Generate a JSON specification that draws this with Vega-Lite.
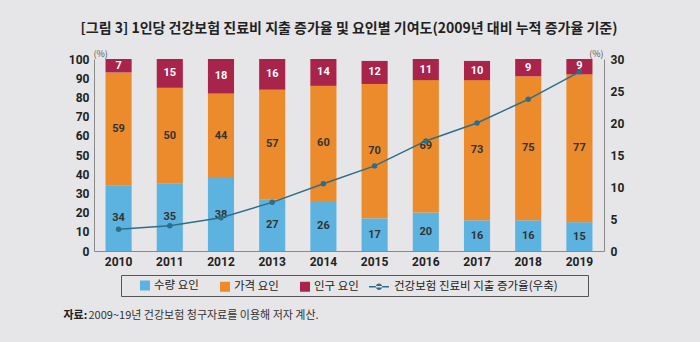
{
  "$schema": "https://vega.github.io/schema/vega-lite/v6.json",
  "width": 510,
  "height": 192,
  "autosize": {"type": "none"},
  "padding": {"left": 94, "top": 59, "right": 96, "bottom": 91},
  "background": "#e6e6e8",
  "config": {
    "view": {"stroke": null},
    "font": "Noto Sans CJK KR",
    "axis": {
      "domainColor": "#8a8a8a",
      "ticks": false,
      "grid": false,
      "labelFont": "Roboto",
      "labelFontWeight": "bold",
      "labelFontSize": 12,
      "labelColor": "#222",
      "labelOverlap": false
    }
  },
  "title": {
    "text": "[그림 3] 1인당 건강보험 진료비 지출 증가율 및 요인별 기여도(2009년 대비 누적 증가율 기준)",
    "fontSize": 14,
    "fontWeight": "bold",
    "color": "#222",
    "anchor": "middle",
    "offset": 13,
    "font": "Noto Sans CJK KR"
  },
  "datasets": {
    "bars": [
      {"year": "2010", "type": "수량 요인", "idx": 0, "value": 34},
      {"year": "2010", "type": "가격 요인", "idx": 1, "value": 59},
      {"year": "2010", "type": "인구 요인", "idx": 2, "value": 7},
      {"year": "2011", "type": "수량 요인", "idx": 0, "value": 35},
      {"year": "2011", "type": "가격 요인", "idx": 1, "value": 50},
      {"year": "2011", "type": "인구 요인", "idx": 2, "value": 15},
      {"year": "2012", "type": "수량 요인", "idx": 0, "value": 38},
      {"year": "2012", "type": "가격 요인", "idx": 1, "value": 44},
      {"year": "2012", "type": "인구 요인", "idx": 2, "value": 18},
      {"year": "2013", "type": "수량 요인", "idx": 0, "value": 27},
      {"year": "2013", "type": "가격 요인", "idx": 1, "value": 57},
      {"year": "2013", "type": "인구 요인", "idx": 2, "value": 16},
      {"year": "2014", "type": "수량 요인", "idx": 0, "value": 26},
      {"year": "2014", "type": "가격 요인", "idx": 1, "value": 60},
      {"year": "2014", "type": "인구 요인", "idx": 2, "value": 14},
      {"year": "2015", "type": "수량 요인", "idx": 0, "value": 17},
      {"year": "2015", "type": "가격 요인", "idx": 1, "value": 70},
      {"year": "2015", "type": "인구 요인", "idx": 2, "value": 12},
      {"year": "2016", "type": "수량 요인", "idx": 0, "value": 20},
      {"year": "2016", "type": "가격 요인", "idx": 1, "value": 69},
      {"year": "2016", "type": "인구 요인", "idx": 2, "value": 11},
      {"year": "2017", "type": "수량 요인", "idx": 0, "value": 16},
      {"year": "2017", "type": "가격 요인", "idx": 1, "value": 73},
      {"year": "2017", "type": "인구 요인", "idx": 2, "value": 10},
      {"year": "2018", "type": "수량 요인", "idx": 0, "value": 16},
      {"year": "2018", "type": "가격 요인", "idx": 1, "value": 75},
      {"year": "2018", "type": "인구 요인", "idx": 2, "value": 9},
      {"year": "2019", "type": "수량 요인", "idx": 0, "value": 15},
      {"year": "2019", "type": "가격 요인", "idx": 1, "value": 77},
      {"year": "2019", "type": "인구 요인", "idx": 2, "value": 9}
    ],
    "rate": [
      {"year": "2010", "type": "건강보험 진료비 지출 증가율(우축)", "rate": 3.4},
      {"year": "2011", "type": "건강보험 진료비 지출 증가율(우축)", "rate": 3.95},
      {"year": "2012", "type": "건강보험 진료비 지출 증가율(우축)", "rate": 5.2},
      {"year": "2013", "type": "건강보험 진료비 지출 증가율(우축)", "rate": 7.6},
      {"year": "2014", "type": "건강보험 진료비 지출 증가율(우축)", "rate": 10.5},
      {"year": "2015", "type": "건강보험 진료비 지출 증가율(우축)", "rate": 13.3},
      {"year": "2016", "type": "건강보험 진료비 지출 증가율(우축)", "rate": 17.2},
      {"year": "2017", "type": "건강보험 진료비 지출 증가율(우축)", "rate": 20.0},
      {"year": "2018", "type": "건강보험 진료비 지출 증가율(우축)", "rate": 23.7},
      {"year": "2019", "type": "건강보험 진료비 지출 증가율(우축)", "rate": 28.0}
    ]
  },
  "layer": [
    {
      "data": {"name": "bars"},
      "encoding": {
        "x": {
          "field": "year",
          "type": "ordinal",
          "scale": {"paddingInner": 0.49, "paddingOuter": 0.225},
          "axis": {
            "orient": "bottom",
            "labelAngle": 0,
            "labelPadding": 5,
            "title": "자료:",
            "titleX": -31,
            "titleY": 64,
            "titleAlign": "left",
            "titleBaseline": "middle",
            "titleFontSize": 11,
            "titleFontWeight": "bold",
            "titleColor": "#222",
            "titleFont": "Noto Sans CJK KR"
          }
        }
      },
      "layer": [
        {
          "mark": {"type": "bar", "clip": true},
          "encoding": {
            "y": {
              "field": "value",
              "type": "quantitative",
              "stack": "zero",
              "scale": {"domain": [0, 100]},
              "axis": {
                "values": [0, 10, 20, 30, 40, 50, 60, 70, 80, 90, 100],
                "labelOverlap": false,
                "labelPadding": 5,
                "title": "(%)",
                "titleAngle": 0,
                "titleAlign": "left",
                "titleBaseline": "middle",
                "titleX": -1,
                "titleY": -6,
                "titleFontSize": 9,
                "titleFontWeight": "normal",
                "titleColor": "#555"
              }
            },
            "order": {"field": "idx", "type": "quantitative"},
            "color": {
              "field": "type",
              "type": "nominal",
              "scale": {
                "domain": ["수량 요인", "가격 요인", "인구 요인", "건강보험 진료비 지출 증가율(우축)"],
                "range": ["#5cb3e0", "#ec8b2b", "#a9244b", "#2f6e88"]
              },
              "legend": {
                "orient": "none",
                "legendX": 27,
                "legendY": 216,
                "direction": "horizontal",
                "title": null,
                "symbolSize": 256,
                "labelOffset": 14.5,
                "columnPadding": 4,
                "padding": 2.5,
                "strokeColor": "#555",
                "labelFontSize": 11.5,
                "labelColor": "#222",
                "labelFont": "Noto Sans CJK KR",
                "labelLimit": 400,
                "encode": {
                  "symbols": {
                    "update": {
                      "shape": {"signal": "datum.value === '건강보험 진료비 지출 증가율(우축)' ? 'M-0.31,-0.094H2.19V0.094H-0.31ZM0.54,0a0.4,0.4 0 1,0 0.8,0a0.4,0.4 0 1,0 -0.8,0ZM26.7,0L26.7,0.01' : (datum.value === '수량 요인' ? 'M-0.875,-1L-0.875,1M1.06,-0.625h1.25v1.25h-1.25z' : 'M1.06,-0.625h1.25v1.25h-1.25z')"},
                      "fill": {"scale": "color", "field": "value"},
                      "stroke": {"value": "transparent"},
                      "strokeWidth": {"value": 0},
                      "opacity": {"value": 1},
                      "fillOpacity": {"value": 1}
                    }
                  }
                }
              }
            }
          }
        },
        {
          "mark": {"type": "text", "font": "Roboto", "fontWeight": "bold", "fontSize": 11, "baseline": "middle"},
          "encoding": {
            "y": {
              "field": "value",
              "type": "quantitative",
              "stack": "zero",
              "bandPosition": 0.5,
              "axis": {
                "values": [0, 10, 20, 30, 40, 50, 60, 70, 80, 90, 100],
                "labelOverlap": false,
                "labelPadding": 5,
                "title": "(%)",
                "titleAngle": 0,
                "titleAlign": "left",
                "titleBaseline": "middle",
                "titleX": -1,
                "titleY": -6,
                "titleFontSize": 9,
                "titleFontWeight": "normal",
                "titleColor": "#555"
              }
            },
            "order": {"field": "idx", "type": "quantitative"},
            "text": {"field": "value", "type": "quantitative"},
            "color": {
              "condition": {"test": "datum.type === '인구 요인'", "value": "#ffffff"},
              "value": "#333333"
            }
          }
        }
      ]
    },
    {
      "data": {"name": "rate"},
      "mark": {"type": "line", "strokeWidth": 1.5, "point": {"filled": true, "size": 30}},
      "encoding": {
        "x": {
          "field": "year",
          "type": "ordinal",
          "axis": {
            "orient": "bottom",
            "labels": false,
            "domain": false,
            "ticks": false,
            "title": "2009~19년 건강보험 청구자료를 이용해 저자 계산.",
            "titleX": -6,
            "titleY": 64,
            "titleAlign": "left",
            "titleBaseline": "middle",
            "titleFontSize": 11,
            "titleFontWeight": "normal",
            "titleColor": "#333",
            "titleFont": "Noto Sans CJK KR"
          }
        },
        "y": {
          "field": "rate",
          "type": "quantitative",
          "scale": {"domain": [0, 30]},
          "axis": {
            "orient": "right",
            "values": [0, 5, 10, 15, 20, 25, 30],
            "labelPadding": 6,
            "title": "(%)",
            "titleAngle": 0,
            "titleAlign": "right",
            "titleBaseline": "middle",
            "titleX": -1,
            "titleY": -6,
            "titleFontSize": 9,
            "titleFontWeight": "normal",
            "titleColor": "#555"
          }
        },
        "color": {"field": "type", "type": "nominal"}
      }
    }
  ],
  "resolve": {"scale": {"y": "independent"}, "axis": {"x": "independent"}}
}
